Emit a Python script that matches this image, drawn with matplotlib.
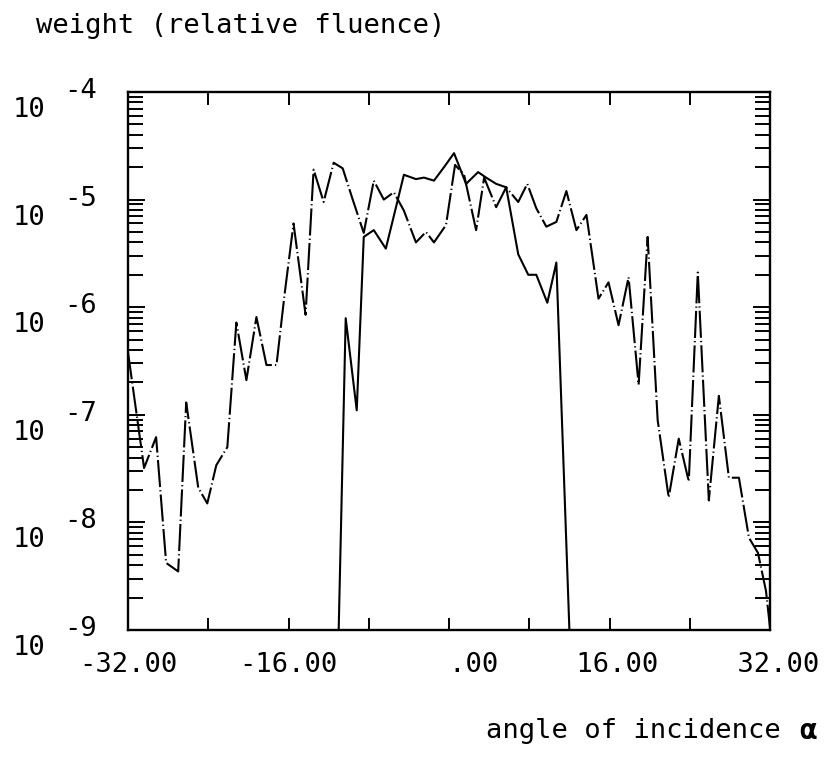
import matplotlib
matplotlib.use("Agg")
import matplotlib.pyplot as plt
from matplotlib.ticker import FixedLocator, LogLocator, NullFormatter
import numpy as np

# %% data
# dash-dot curve (full angular range)
angle_dd = [-32.0, -30.4, -29.2, -28.2, -27.0, -26.2, -25.0, -24.1, -23.2, -22.1,
            -21.2, -20.2, -19.2, -18.2, -17.2, -16.4, -15.5, -14.3, -13.5, -12.5,
            -11.5, -10.6, -9.6, -8.5, -7.5, -6.5, -5.5, -4.5, -3.3, -2.3,
            -1.5, -0.3, 0.6, 1.5, 2.7, 3.5, 4.7, 5.7, 6.9, 7.8,
            8.7, 9.7, 10.7, 11.7, 12.7, 13.7, 14.9, 15.9, 16.9, 17.9,
            18.9, 19.8, 20.8, 21.9, 22.9, 23.9, 24.8, 25.9, 26.9, 27.9,
            28.9, 29.9, 30.8, 31.6, 32.0]
weight_dd = [3.8e-7, 3.2e-8, 6.2e-8, 4.2e-9, 3.5e-9, 1.3e-7, 2.1e-8, 1.5e-8, 3.4e-8, 5.0e-8,
             7.2e-7, 2.1e-7, 8.1e-7, 2.9e-7, 2.9e-7, 1.3e-6, 6.0e-6, 8.5e-7, 1.9e-5, 9.5e-6,
             2.2e-5, 1.95e-5, 1.0e-5, 4.9e-6, 1.5e-5, 1.0e-5, 1.17e-5, 7.9e-6, 4.0e-6, 5.0e-6,
             4.0e-6, 5.8e-6, 2.1e-5, 1.7e-5, 5.2e-6, 1.6e-5, 8.5e-6, 1.3e-5, 9.5e-6, 1.4e-5,
             8.3e-6, 5.6e-6, 6.2e-6, 1.2e-5, 5.2e-6, 7.2e-6, 1.2e-6, 1.7e-6, 6.8e-7, 1.9e-6,
             1.9e-7, 4.5e-6, 8.9e-8, 1.7e-8, 6.0e-8, 2.4e-8, 2.1e-6, 1.6e-8, 1.5e-7, 2.6e-8,
             2.6e-8, 7.2e-9, 5.2e-9, 2.3e-9, 1.05e-9]

# solid curve (narrow, drops to the floor at both ends)
angle_solid = [-11.0, -10.3, -9.2, -8.5, -7.5, -6.3, -5.1, -4.5, -3.3, -2.5,
               -1.5, -0.5, 0.5, 1.7, 2.9, 3.7, 4.7, 5.7, 6.9, 7.9,
               8.7, 9.8, 10.7, 12.0]
weight_solid = [1.0e-9, 7.9e-7, 1.1e-7, 4.5e-6, 5.2e-6, 3.5e-6, 1.0e-5, 1.7e-5, 1.55e-5, 1.6e-5,
                1.5e-5, 2.0e-5, 2.7e-5, 1.4e-5, 1.8e-5, 1.6e-5, 1.4e-5, 1.3e-5, 3.1e-6, 2.0e-6,
                2.0e-6, 1.1e-6, 2.6e-6, 1.0e-9]

x_ticks = [-32, -24, -16, -8, 0, 8, 16, 24, 32]
x_ticklabels = ["-32.00", "", "-16.00", "", "   .00", "", " 16.00", "", " 32.00"]
decades = [-4, -5, -6, -7, -8, -9]

# %% plotting
plt.rcParams['font.family'] = ['DejaVu Sans Mono', 'DejaVu Sans']
FS = 19.5

fig = plt.figure(figsize=(8.27, 7.57), dpi=100)
ax = fig.add_axes([0.1548, 0.1678, 0.7763, 0.7107])

ax.plot(angle_solid, weight_solid, color='k', lw=1.5)
ax.plot(angle_dd, weight_dd, color='k', lw=1.5, dashes=(13, 1.5, 0.6, 1.5))

ax.set_yscale('log')
ax.set_xlim(-32, 32)
ax.set_ylim(1e-9, 1e-4)

for sp in ax.spines.values():
    sp.set_linewidth(1.7)

ax.xaxis.set_major_locator(FixedLocator(x_ticks))
ax.set_xticklabels(x_ticklabels)
ax.tick_params(axis='x', which='major', direction='in', top=True, bottom=True,
               length=9, width=1.4, labelsize=FS, pad=16)

ax.yaxis.set_major_locator(LogLocator(base=10, numticks=10))
ax.yaxis.set_minor_locator(LogLocator(base=10, subs=np.arange(2, 10), numticks=20))
ax.yaxis.set_major_formatter(NullFormatter())
ax.yaxis.set_minor_formatter(NullFormatter())
ax.tick_params(axis='y', which='both', direction='in', left=True, right=True,
               width=1.4)
ax.tick_params(axis='y', which='major', length=12)
ax.tick_params(axis='y', which='minor', length=11)

# y labels drawn as "10" plus raised exponent, like the plotter did
ytr = ax.get_yaxis_transform()
for d in decades:
    ax.annotate("10", xy=(-0.128, 10.0**d), xycoords=ytr, xytext=(0, -18),
                textcoords='offset pixels', ha='right', va='center', fontsize=FS)
    ax.annotate(f"{d}", xy=(-0.099, 10.0**d), xycoords=ytr, xytext=(0, 1),
                textcoords='offset pixels', ha='left', va='center', fontsize=FS)

fig.text(36 / 827, 1 - 26 / 757, "weight (relative fluence)", fontsize=FS,
         ha='left', va='center')
fig.text(797 / 827, 1 - 731 / 757, "angle of incidence ", fontsize=FS,
         ha='right', va='center')
fig.text(799 / 827, 1 - 731 / 757, "\u03b1", fontsize=21, fontweight='bold',
         ha='left', va='center')

fig.savefig("out.png", dpi=100)
